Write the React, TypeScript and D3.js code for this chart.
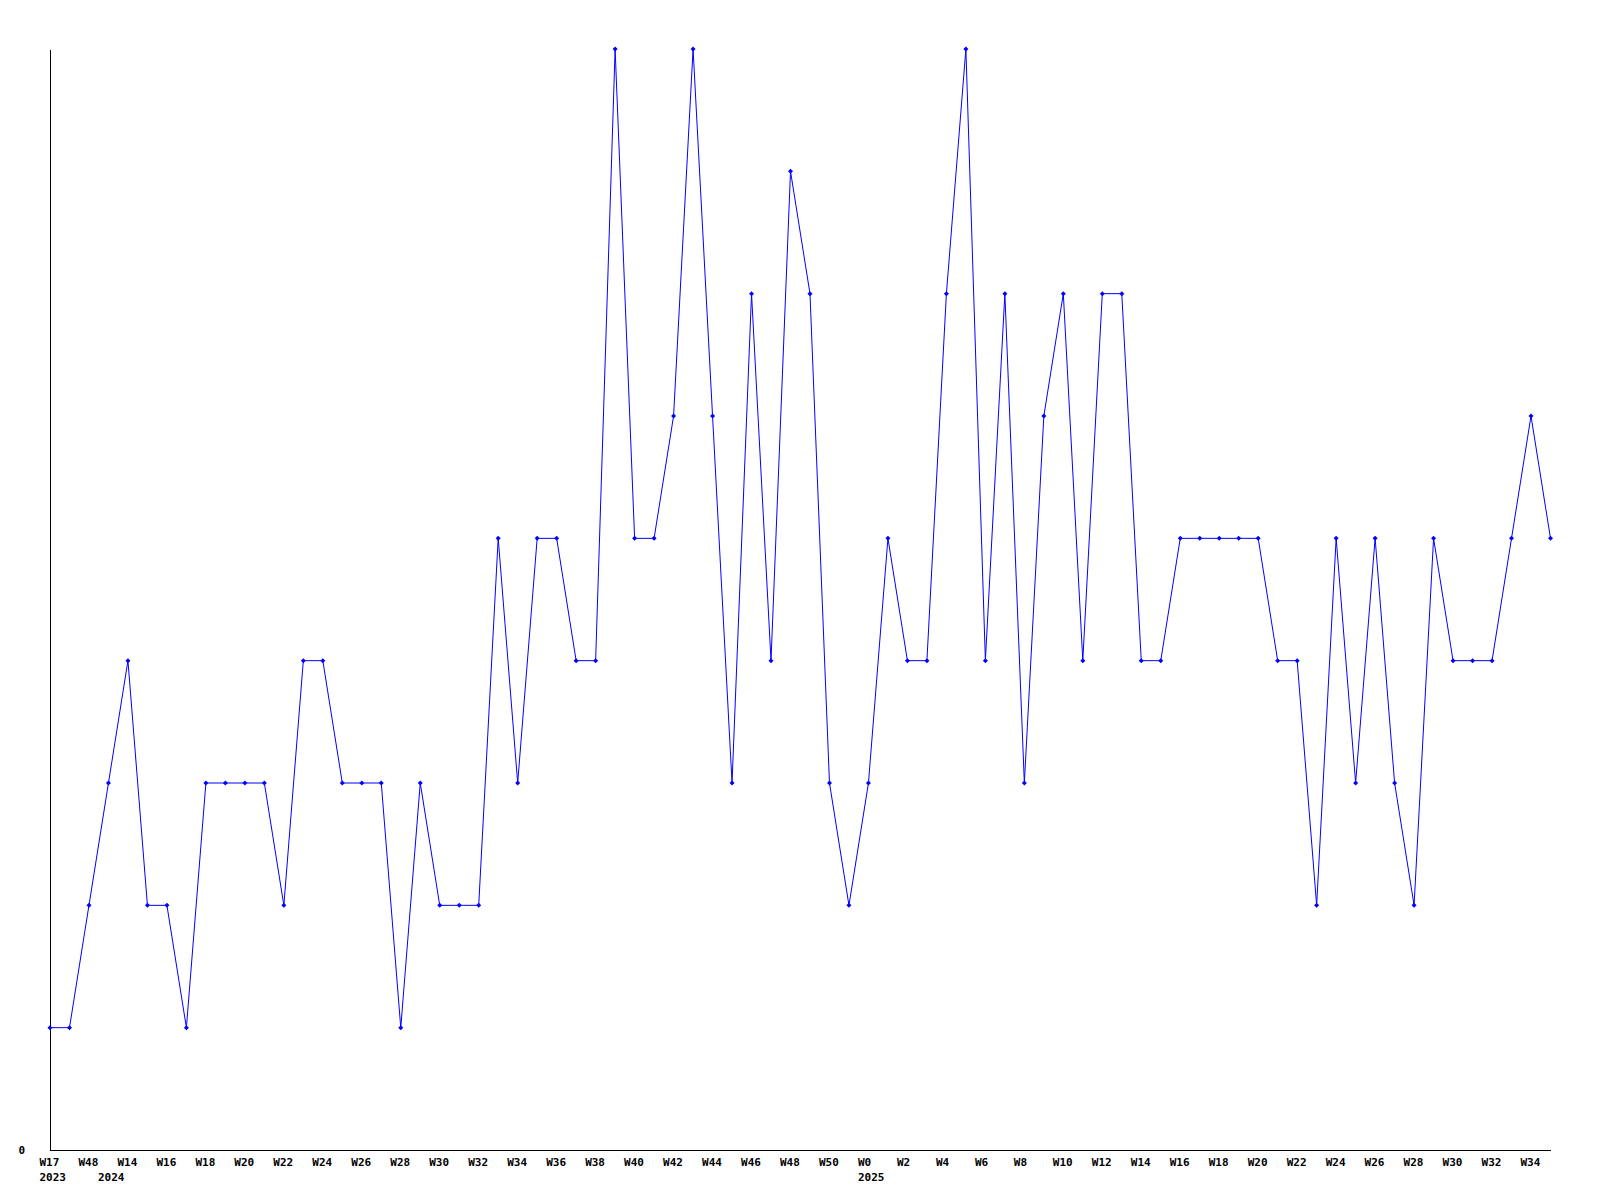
import React from "react";
import * as d3 from "d3";

const weeks: string[] = [
  "W17", "W18", "W48", "W13",
  "W14", "W15", "W16", "W17", "W18", "W19", "W20", "W21", "W22", "W23", "W24", "W25",
  "W26", "W27", "W28", "W29", "W30", "W31", "W32", "W33", "W34", "W35", "W36", "W37",
  "W38", "W39", "W40", "W41", "W42", "W43", "W44", "W45", "W46", "W47", "W48", "W49",
  "W50", "W51",
  "W0", "W1", "W2", "W3", "W4", "W5", "W6", "W7", "W8", "W9", "W10", "W11", "W12",
  "W13", "W14", "W15", "W16", "W17", "W18", "W19", "W20", "W21", "W22", "W23", "W24",
  "W25", "W26", "W27", "W28", "W29", "W30", "W31", "W32", "W33", "W34", "W35",
];

const years: string[] = ["2023", "2024", "2025"];
const yearStartIndex: number[] = [0, 3, 42];

const values: number[] = [
  1, 1, 2, 3, 4, 2, 2, 1, 3, 3, 3, 3, 2, 4, 4, 3, 3, 3, 1, 3,
  2, 2, 2, 5, 3, 5, 5, 4, 4, 9, 5, 5, 6, 9, 6, 3, 7, 4, 8, 7,
  3, 2, 3, 5, 4, 4, 7, 9, 4, 7, 3, 6, 7, 4, 7, 7, 4, 4, 5, 5,
  5, 5, 5, 4, 4, 2, 5, 3, 5, 3, 2, 5, 4, 4, 4, 5, 6, 5,
];

const yMax = 9;

export default function App() {
  const W = 1600;
  const H = 1200;
  const left = 50;
  const right = 1550.5;
  const top = 49;
  const bottom = 1150;

  const x = d3
    .scaleLinear()
    .domain([0, values.length - 1])
    .range([left, right]);
  const y = d3.scaleLinear().domain([0, yMax]).range([bottom, top]);

  const line = d3
    .line<number>()
    .x((_, i) => x(i))
    .y((d) => y(d));

  const font = "'DejaVu Sans Mono', monospace";

  return (
    <svg
      width={W}
      height={H}
      style={{ position: "absolute", left: 0, top: 0, background: "#fff" }}
    >
      <rect x={0} y={0} width={W} height={H} fill="#fff" />
      <line x1={left + 0.5} y1={50} x2={left + 0.5} y2={bottom} stroke="#000" strokeWidth={1} />
      <line x1={left} y1={bottom + 0.5} x2={right + 0.5} y2={bottom + 0.5} stroke="#000" strokeWidth={1} />
      <path d={line(values) ?? ""} fill="none" stroke="#0000ff" strokeWidth={1} />
      {values.map((v, i) => {
        const cx = x(i);
        const cy = y(v);
        return (
          <path
            key={i}
            d={`M${cx},${cy - 2.5}L${cx + 2.5},${cy}L${cx},${cy + 2.5}L${cx - 2.5},${cy}Z`}
            fill="#0000ff"
          />
        );
      })}
      <text
        x={25}
        y={1154}
        textAnchor="end"
        fontFamily={font}
        fontWeight="bold"
        fontSize={11}
        fill="#000"
      >
        0
      </text>
      {weeks.map((w, i) =>
        i % 2 === 0 ? (
          <text
            key={i}
            x={x(i) - 10.5}
            y={1166}
            fontFamily={font}
            fontWeight="bold"
            fontSize={11}
            fill="#000"
          >
            {w}
          </text>
        ) : null
      )}
      {years.map((yr, k) => (
        <text
          key={yr}
          x={x(yearStartIndex[k]) - 10.5}
          y={1181}
          fontFamily={font}
          fontWeight="bold"
          fontSize={11}
          fill="#000"
        >
          {yr}
        </text>
      ))}
    </svg>
  );
}
